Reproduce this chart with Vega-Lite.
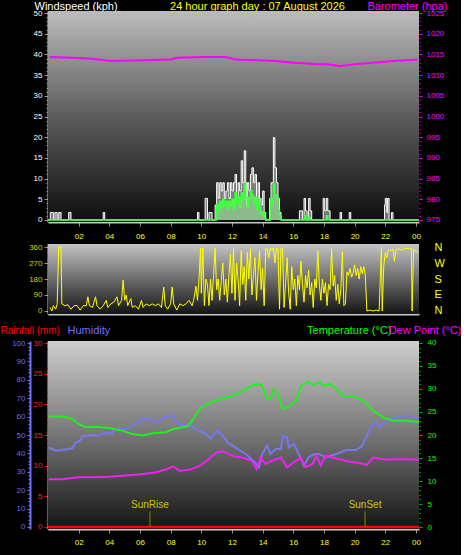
{
 "$schema": "https://vega.github.io/schema/vega-lite/v6.json",
 "background": "#000000",
 "padding": 0,
 "config": {
  "view": {"stroke": null},
  "font": "Liberation Sans",
  "axis": {"labelFont": "Liberation Sans", "titleFont": "Liberation Sans", "labelFontSize": 8, "titleFontSize": 11, "titleFontWeight": "normal", "grid": false, "labelOverlap": false, "labelFlush": false}
 },
 "datasets": {
  "gust": [
   {"h":0,"g":0},{"h":0.15,"g":1.8},{"h":0.35,"g":0},{"h":0.45,"g":1.8},{"h":0.6,"g":0},{"h":0.7,"g":1.8},{"h":0.85,"g":0},
   {"h":1.35,"g":1.8},{"h":1.5,"g":0},{"h":3.6,"g":1.8},{"h":3.7,"g":0},{"h":9.75,"g":1.8},{"h":9.85,"g":0},
   {"h":10.25,"g":5.2},{"h":10.4,"g":0},{"h":10.5,"g":1.8},{"h":10.7,"g":0},{"h":10.9,"g":3.6},{"h":11.0,"g":9.0},{"h":11.1,"g":5.2},
   {"h":11.2,"g":9.0},{"h":11.3,"g":7.0},{"h":11.4,"g":9.0},{"h":11.5,"g":5.2},{"h":11.6,"g":7.0},{"h":11.7,"g":9.0},{"h":11.8,"g":5.2},
   {"h":11.9,"g":9.0},{"h":12.0,"g":7.0},{"h":12.1,"g":9.0},{"h":12.2,"g":11.0},{"h":12.3,"g":5.2},{"h":12.4,"g":9.0},{"h":12.5,"g":7.0},
   {"h":12.6,"g":14.3},{"h":12.7,"g":9.0},{"h":12.8,"g":16.7},{"h":12.9,"g":9.0},{"h":12.95,"g":3.6},{"h":13.0,"g":9.0},{"h":13.1,"g":7.0},
   {"h":13.2,"g":11.0},{"h":13.3,"g":12.6},{"h":13.4,"g":9.0},{"h":13.5,"g":11.0},{"h":13.6,"g":5.2},{"h":13.7,"g":9.0},{"h":13.8,"g":5.2},
   {"h":13.9,"g":3.6},{"h":14.0,"g":7.0},{"h":14.1,"g":1.8},{"h":14.2,"g":0},{"h":14.45,"g":5.2},{"h":14.55,"g":9.0},{"h":14.7,"g":19.9},
   {"h":14.8,"g":12.6},{"h":14.9,"g":9.0},{"h":15.0,"g":5.2},{"h":15.1,"g":1.8},{"h":15.2,"g":0},{"h":16.4,"g":2.2},{"h":16.6,"g":0},
   {"h":16.7,"g":5.2},{"h":16.8,"g":2.2},{"h":16.9,"g":0},{"h":17.0,"g":5.2},{"h":17.1,"g":2.2},{"h":17.2,"g":0},{"h":17.95,"g":5.2},
   {"h":18.05,"g":2.2},{"h":18.15,"g":5.2},{"h":18.25,"g":2.2},{"h":18.4,"g":0},{"h":19.05,"g":1.8},{"h":19.15,"g":0},{"h":19.65,"g":1.8},
   {"h":19.75,"g":0},{"h":21.95,"g":3.6},{"h":22.0,"g":5.2},{"h":22.1,"g":1.8},{"h":22.15,"g":5.2},{"h":22.25,"g":0},{"h":22.4,"g":1.8},
   {"h":22.5,"g":0},{"h":24.2,"g":0}
  ],
  "avg": [
   {"h":0,"a":0},{"h":10.95,"a":0},{"h":11.0,"a":3.8},{"h":11.1,"a":2.0},{"h":11.2,"a":4.5},{"h":11.3,"a":3.0},{"h":11.4,"a":5.0},
   {"h":11.5,"a":3.5},{"h":11.6,"a":4.5},{"h":11.7,"a":2.5},{"h":11.8,"a":4.5},{"h":11.9,"a":3.5},{"h":12.0,"a":5.0},{"h":12.1,"a":2.5},
   {"h":12.2,"a":6.5},{"h":12.3,"a":4.0},{"h":12.4,"a":5.5},{"h":12.5,"a":3.0},{"h":12.6,"a":6.5},{"h":12.7,"a":5.0},{"h":12.8,"a":8.7},
   {"h":12.9,"a":5.5},{"h":13.0,"a":3.0},{"h":13.1,"a":5.5},{"h":13.2,"a":7.0},{"h":13.3,"a":6.0},{"h":13.4,"a":4.0},{"h":13.5,"a":5.5},
   {"h":13.6,"a":2.5},{"h":13.7,"a":5.0},{"h":13.8,"a":3.0},{"h":13.9,"a":1.2},{"h":14.0,"a":2.0},{"h":14.1,"a":0.5},{"h":14.2,"a":0},
   {"h":14.5,"a":5.2},{"h":14.6,"a":4.0},{"h":14.7,"a":8.7},{"h":14.8,"a":6.0},{"h":14.9,"a":5.5},{"h":15.0,"a":2.5},{"h":15.1,"a":0.8},
   {"h":15.2,"a":0},{"h":16.75,"a":1.0},{"h":16.85,"a":0},{"h":17.0,"a":0.6},{"h":17.1,"a":0},{"h":18.15,"a":1.0},{"h":18.25,"a":0},{"h":24.2,"a":0}
  ],
  "baro": [
   {"h":0.1,"p":1014.4},{"h":1.5,"p":1014.2},{"h":2.66,"p":1014.0},{"h":4.15,"p":1013.4},{"h":6.3,"p":1013.6},{"h":8.0,"p":1013.8},
   {"h":8.4,"p":1014.2},{"h":10.1,"p":1014.4},{"h":11.6,"p":1014.4},{"h":12.25,"p":1013.8},{"h":13.75,"p":1013.6},{"h":14.8,"p":1013.4},
   {"h":16.1,"p":1013.0},{"h":17.6,"p":1012.6},{"h":18.2,"p":1012.6},{"h":19.1,"p":1012.2},{"h":19.9,"p":1012.6},{"h":21.2,"p":1013.0},
   {"h":22.5,"p":1013.4},{"h":24.1,"p":1013.8}
  ],
  "dir": [
   {"h":0.13,"d":20},{"h":0.25,"d":0},{"h":0.35,"d":30},{"h":0.5,"d":10},{"h":0.6,"d":40},{"h":0.7,"d":360},{"h":0.85,"d":360},{"h":0.9,"d":40},
   {"h":1.1,"d":30},{"h":1.3,"d":35},{"h":1.5,"d":10},{"h":1.7,"d":30},{"h":1.9,"d":30},{"h":2.1,"d":5},{"h":2.3,"d":30},{"h":2.5,"d":30},
   {"h":2.6,"d":80},{"h":2.7,"d":30},{"h":2.9,"d":20},{"h":3.1,"d":80},{"h":3.2,"d":30},{"h":3.4,"d":10},{"h":3.6,"d":30},{"h":3.8,"d":60},
   {"h":3.9,"d":20},{"h":4.1,"d":40},{"h":4.3,"d":50},{"h":4.5,"d":80},{"h":4.6,"d":30},{"h":4.8,"d":60},{"h":4.9,"d":175},{"h":5.0,"d":60},
   {"h":5.1,"d":90},{"h":5.2,"d":30},{"h":5.4,"d":70},{"h":5.5,"d":20},{"h":5.7,"d":30},{"h":5.9,"d":10},{"h":6.1,"d":60},{"h":6.2,"d":20},
   {"h":6.4,"d":40},{"h":6.6,"d":30},{"h":6.8,"d":40},{"h":7.0,"d":30},{"h":7.2,"d":40},{"h":7.4,"d":20},{"h":7.55,"d":135},{"h":7.65,"d":30},
   {"h":7.8,"d":10},{"h":8.0,"d":40},{"h":8.1,"d":135},{"h":8.2,"d":40},{"h":8.4,"d":5},{"h":8.6,"d":40},{"h":8.8,"d":30},{"h":9.0,"d":40},
   {"h":9.2,"d":60},{"h":9.4,"d":30},{"h":9.5,"d":60},{"h":9.65,"d":140},{"h":9.75,"d":60},{"h":9.85,"d":180},{"h":9.95,"d":355},{"h":10.0,"d":100},
   {"h":10.1,"d":355},{"h":10.2,"d":30},{"h":10.3,"d":180},{"h":10.4,"d":150},{"h":10.5,"d":30},{"h":10.6,"d":180},{"h":10.7,"d":60},{"h":10.8,"d":200},
   {"h":10.9,"d":355},{"h":11.0,"d":120},{"h":11.1,"d":180},{"h":11.2,"d":60},{"h":11.3,"d":170},{"h":11.4,"d":270},{"h":11.5,"d":90},{"h":11.6,"d":180},
   {"h":11.7,"d":50},{"h":11.8,"d":200},{"h":11.9,"d":320},{"h":12.0,"d":100},{"h":12.1,"d":350},{"h":12.2,"d":60},{"h":12.3,"d":270},{"h":12.4,"d":180},
   {"h":12.5,"d":30},{"h":12.6,"d":340},{"h":12.7,"d":150},{"h":12.8,"d":250},{"h":12.9,"d":60},{"h":13.0,"d":330},{"h":13.1,"d":180},{"h":13.2,"d":350},
   {"h":13.3,"d":90},{"h":13.4,"d":200},{"h":13.5,"d":300},{"h":13.6,"d":60},{"h":13.7,"d":220},{"h":13.8,"d":340},{"h":13.9,"d":120},{"h":14.0,"d":240},
   {"h":14.1,"d":30},{"h":14.2,"d":350},{"h":14.3,"d":350},{"h":14.4,"d":300},{"h":14.5,"d":355},{"h":14.6,"d":340},{"h":14.7,"d":355},{"h":14.8,"d":270},
   {"h":14.9,"d":355},{"h":15.0,"d":350},{"h":15.1,"d":10},{"h":15.2,"d":355},{"h":15.3,"d":350},{"h":15.4,"d":20},{"h":15.5,"d":160},{"h":15.6,"d":300},
   {"h":15.7,"d":100},{"h":15.8,"d":10},{"h":15.9,"d":250},{"h":16.0,"d":120},{"h":16.1,"d":180},{"h":16.2,"d":30},{"h":16.3,"d":200},{"h":16.4,"d":120},
   {"h":16.5,"d":280},{"h":16.6,"d":150},{"h":16.7,"d":50},{"h":16.8,"d":200},{"h":16.9,"d":130},{"h":17.0,"d":230},{"h":17.1,"d":90},{"h":17.2,"d":160},
   {"h":17.3,"d":20},{"h":17.4,"d":180},{"h":17.5,"d":130},{"h":17.6,"d":340},{"h":17.7,"d":150},{"h":17.8,"d":60},{"h":17.9,"d":180},{"h":18.0,"d":100},
   {"h":18.1,"d":160},{"h":18.2,"d":30},{"h":18.3,"d":150},{"h":18.4,"d":120},{"h":18.5,"d":350},{"h":18.6,"d":140},{"h":18.7,"d":200},{"h":18.8,"d":60},
   {"h":18.9,"d":150},{"h":19.0,"d":40},{"h":19.1,"d":120},{"h":19.2,"d":330},{"h":19.3,"d":30},{"h":19.4,"d":40},{"h":19.5,"d":220},{"h":19.6,"d":200},
   {"h":19.7,"d":240},{"h":19.8,"d":190},{"h":19.9,"d":210},{"h":20.0,"d":260},{"h":20.1,"d":200},{"h":20.2,"d":240},{"h":20.3,"d":180},{"h":20.4,"d":250},
   {"h":20.5,"d":210},{"h":20.6,"d":250},{"h":20.7,"d":200},{"h":20.8,"d":0},{"h":21.0,"d":5},{"h":21.2,"d":0},{"h":21.4,"d":5},{"h":21.6,"d":0},
   {"h":21.75,"d":360},{"h":21.8,"d":0},{"h":21.9,"d":250},{"h":22.0,"d":330},{"h":22.1,"d":300},{"h":22.2,"d":345},{"h":22.4,"d":340},{"h":22.5,"d":350},
   {"h":22.6,"d":280},{"h":22.7,"d":345},{"h":22.9,"d":350},{"h":23.1,"d":340},{"h":23.3,"d":355},{"h":23.5,"d":350},{"h":23.7,"d":355},{"h":23.75,"d":0},
   {"h":23.85,"d":350},{"h":24.0,"d":330},{"h":24.15,"d":340}
  ],
  "temp": [
   {"h":0.04,"t":24.0},{"h":0.92,"t":24.0},{"h":1.58,"t":23.5},{"h":2.0,"t":22.4},{"h":2.46,"t":21.7},{"h":3.1,"t":21.8},{"h":4.0,"t":21.5},
   {"h":4.87,"t":20.9},{"h":5.5,"t":20.2},{"h":6.2,"t":19.9},{"h":6.84,"t":20.4},{"h":7.7,"t":20.6},{"h":8.16,"t":21.3},{"h":8.8,"t":21.7},
   {"h":9.1,"t":21.9},{"h":9.5,"t":23.5},{"h":9.9,"t":25.7},{"h":10.35,"t":26.7},{"h":11.0,"t":27.5},{"h":11.67,"t":28.2},{"h":12.2,"t":28.7},
   {"h":12.9,"t":30.0},{"h":13.4,"t":30.8},{"h":13.75,"t":31.1},{"h":13.97,"t":30.7},{"h":14.3,"t":27.8},{"h":14.5,"t":27.8},{"h":14.74,"t":30.0},
   {"h":14.95,"t":29.3},{"h":15.3,"t":25.7},{"h":15.6,"t":26.0},{"h":16.2,"t":27.5},{"h":16.5,"t":30.7},{"h":16.9,"t":31.6},{"h":17.3,"t":30.9},
   {"h":17.7,"t":31.5},{"h":18.0,"t":30.7},{"h":18.4,"t":31.1},{"h":18.8,"t":30.0},{"h":19.2,"t":28.5},{"h":19.9,"t":28.4},{"h":20.3,"t":28.0},
   {"h":20.8,"t":26.7},{"h":21.2,"t":25.3},{"h":21.9,"t":23.8},{"h":22.5,"t":23.1},{"h":23.4,"t":23.1},{"h":24.2,"t":22.8}
  ],
  "hum": [
   {"h":0.05,"u":43.3},{"h":0.5,"u":41.5},{"h":0.9,"u":41.8},{"h":1.58,"u":42.8},{"h":1.8,"u":45.7},{"h":2.1,"u":46.9},{"h":2.24,"u":49.3},
   {"h":2.8,"u":50.0},{"h":3.3,"u":49.6},{"h":3.55,"u":50.9},{"h":4.2,"u":50.9},{"h":4.3,"u":53.3},{"h":5.1,"u":53.3},{"h":5.5,"u":54.7},
   {"h":6.1,"u":58.7},{"h":6.6,"u":58.7},{"h":7.06,"u":56.9},{"h":7.5,"u":59.1},{"h":7.9,"u":60.2},{"h":8.16,"u":60.9},{"h":8.27,"u":57.8},
   {"h":8.6,"u":55.4},{"h":9.26,"u":55.4},{"h":9.7,"u":52.9},{"h":10.35,"u":50.5},{"h":10.6,"u":47.8},{"h":11.0,"u":52.4},{"h":11.3,"u":50.5},
   {"h":11.7,"u":46.0},{"h":12.2,"u":43.3},{"h":12.9,"u":39.7},{"h":13.5,"u":35.1},{"h":13.75,"u":32.4},{"h":13.97,"u":39.7},{"h":14.3,"u":44.2},
   {"h":14.5,"u":39.7},{"h":14.85,"u":42.4},{"h":15.2,"u":42.4},{"h":15.3,"u":49.3},{"h":15.6,"u":48.7},{"h":15.7,"u":43.3},{"h":16.05,"u":45.1},
   {"h":16.4,"u":38.8},{"h":16.7,"u":33.3},{"h":17.0,"u":37.9},{"h":17.4,"u":39.7},{"h":17.7,"u":39.7},{"h":18.1,"u":37.9},{"h":18.8,"u":39.7},
   {"h":19.45,"u":41.8},{"h":20.1,"u":41.8},{"h":20.5,"u":44.2},{"h":21.0,"u":53.3},{"h":21.3,"u":56.9},{"h":21.6,"u":54.2},{"h":22.2,"u":58.7},
   {"h":22.96,"u":59.6},{"h":23.6,"u":60.2},{"h":24.2,"u":58.7}
  ],
  "dew": [
   {"h":0.05,"w":10.4},{"h":0.9,"w":10.4},{"h":2.0,"w":10.8},{"h":3.1,"w":10.8},{"h":4.0,"w":10.9},{"h":5.1,"w":11.2},{"h":6.2,"w":11.5},
   {"h":7.06,"w":11.9},{"h":7.7,"w":12.5},{"h":8.16,"w":13.2},{"h":8.6,"w":12.2},{"h":9.26,"w":12.5},{"h":9.9,"w":13.3},{"h":10.35,"w":14.4},
   {"h":11.0,"w":16.2},{"h":11.45,"w":16.4},{"h":12.1,"w":15.4},{"h":12.65,"w":15.1},{"h":13.3,"w":14.4},{"h":13.6,"w":12.6},{"h":13.86,"w":15.1},
   {"h":14.2,"w":13.7},{"h":14.6,"w":14.4},{"h":15.2,"w":15.1},{"h":15.6,"w":13.0},{"h":16.05,"w":14.1},{"h":16.5,"w":15.1},{"h":16.8,"w":13.0},
   {"h":17.25,"w":13.7},{"h":17.5,"w":15.5},{"h":17.8,"w":13.3},{"h":18.1,"w":15.5},{"h":18.8,"w":14.9},{"h":19.7,"w":14.2},{"h":20.3,"w":13.9},
   {"h":20.8,"w":13.5},{"h":21.2,"w":15.1},{"h":22.1,"w":14.6},{"h":22.96,"w":14.8},{"h":24.2,"w":14.6}
  ],
  "rain": [{"h":0,"r":0},{"h":24.2,"r":0}],
  "sun": [{"h":6.65,"label":"SunRise"},{"h":20.68,"label":"SunSet"}]
 },
 "spacing": 22,
 "bounds": "flush",
 "vconcat": [
  {
   "width": 371, "height": 211,
   "layer": [
    {
     "data": {"values": [{}]},
     "mark": {"type": "rect", "color": {"gradient": "linear", "x1": 0, "y1": 0, "x2": 0, "y2": 1, "stops": [{"offset": 0, "color": "#bcbcbc"}, {"offset": 0.5, "color": "#5c5c5c"}, {"offset": 1, "color": "#0e0e0e"}]}},
     "encoding": {
      "x": {"datum": 0, "type": "quantitative", "scale": {"domain": [0, 24.2], "nice": false, "zero": false},
       "axis": {"values": [2,4,6,8,10,12,14,16,18,20,22,24], "labelOverlap": false, "labelExpr": "datum.value == 24 ? '00' : (datum.value < 10 ? '0' + datum.value : '' + datum.value)",
        "labelColor": "#ffff00", "labelFontSize": 8, "tickColor": "#909090", "tickSize": 4, "domainColor": "#c8c8c8", "domainWidth": 2, "labelPadding": 6,
        "grid": true, "gridColor": "#d8d8d8", "gridDash": [1, 2], "gridOpacity": 0.45,
        "title": "24 hour graph day : 07 August 2026", "titleColor": "#ffff00", "titleFontSize": 11, "titleAngle": 0, "titleAlign": "center", "titleBaseline": "alphabetic", "titleX": 209, "titleY": -213}},
      "x2": {"datum": 24.2},
      "y": {"datum": -0.5, "type": "quantitative", "scale": {"domain": [-0.5, 50.5], "nice": false, "zero": false},
       "axis": {"values": [0,5,10,15,20,25,30,35,40,45,50], "labelOverlap": false, "labelColor": "#ffffff", "labelFontSize": 8, "tickColor": "#909090", "tickSize": 4,
        "domainColor": "#c8c8c8", "domainWidth": 2, "labelPadding": 2, "grid": true, "gridColor": "#d8d8d8", "gridDash": [1, 2], "gridOpacity": 0.45,
        "title": "Windspeed (kph)", "titleColor": "#ffffff", "titleFontSize": 11, "titleAngle": 0, "titleAlign": "left", "titleBaseline": "alphabetic", "titleX": -14, "titleY": -2}},
      "y2": {"datum": 50.5}
     }
    },
    {
     "data": {"name": "gust"},
     "mark": {"type": "area", "interpolate": "step-after", "color": "#c8c8c8", "opacity": 0.55},
     "encoding": {"x": {"field": "h", "type": "quantitative", "scale": {"domain": [0, 24.2], "nice": false, "zero": false}, "axis": null}, "y": {"field": "g", "type": "quantitative", "scale": {"domain": [-0.5, 50.5], "nice": false, "zero": false}, "axis": null}}
    },
    {
     "data": {"name": "gust"},
     "mark": {"type": "line", "interpolate": "step-after", "color": "#ffffff", "strokeWidth": 1},
     "encoding": {"x": {"field": "h", "type": "quantitative", "scale": {"domain": [0, 24.2], "nice": false, "zero": false}, "axis": null}, "y": {"field": "g", "type": "quantitative", "scale": {"domain": [-0.5, 50.5], "nice": false, "zero": false}, "axis": null}}
    },
    {
     "data": {"name": "avg"},
     "mark": {"type": "area", "interpolate": "step-after", "color": "#a0f0a0", "opacity": 0.55},
     "encoding": {"x": {"field": "h", "type": "quantitative", "scale": {"domain": [0, 24.2], "nice": false, "zero": false}, "axis": null}, "y": {"field": "a", "type": "quantitative", "scale": {"domain": [-0.5, 50.5], "nice": false, "zero": false}, "axis": null}}
    },
    {
     "data": {"name": "avg"},
     "mark": {"type": "line", "interpolate": "step-after", "color": "#40ff40", "strokeWidth": 1.5},
     "encoding": {"x": {"field": "h", "type": "quantitative", "scale": {"domain": [0, 24.2], "nice": false, "zero": false}, "axis": null}, "y": {"field": "a", "type": "quantitative", "scale": {"domain": [-0.5, 50.5], "nice": false, "zero": false}, "axis": null}}
    },
    {
     "data": {"name": "baro"},
     "mark": {"type": "line", "color": "#ff00ff", "strokeWidth": 2},
     "encoding": {
      "x": {"field": "h", "type": "quantitative", "scale": {"domain": [0, 24.2], "nice": false, "zero": false}, "axis": null},
      "y": {"field": "p", "type": "quantitative", "scale": {"domain": [974.5, 1025.5], "nice": false, "zero": false},
       "axis": {"orient": "right", "values": [975,980,985,990,995,1000,1005,1010,1015,1020,1025], "labelOverlap": false, "format": "d", "labelColor": "#ff00ff", "labelFontSize": 8,
        "tickColor": "#ff00ff", "tickSize": 3, "domain": false, "labelPadding": 4, "grid": false,
        "title": "Barometer (hpa)", "titleColor": "#ff00ff", "titleFontSize": 11, "titleAngle": 0, "titleAlign": "right", "titleBaseline": "alphabetic", "titleX": 28, "titleY": -2}}
     }
    },
    {
     "data": {"name": "rain"},
     "mark": {"type": "line", "opacity": 0},
     "encoding": {
      "x": {"field": "h", "type": "quantitative", "scale": {"domain": [0, 24.2], "nice": false, "zero": false}, "axis": null},
      "y": {"field": "r", "type": "quantitative", "scale": {"domain": [-0.5, 50.5], "nice": false, "zero": false},
       "axis": {"orient": "left", "values": [1,2,3,4,6,7,8,9,11,12,13,14,16,17,18,19,21,22,23,24,26,27,28,29,31,32,33,34,36,37,38,39,41,42,43,44,46,47,48,49],
        "labels": false, "domain": false, "tickColor": "#909090", "tickSize": 2, "grid": false, "title": null}}
     }
    },
    {
     "data": {"name": "rain"},
     "mark": {"type": "line", "opacity": 0},
     "encoding": {
      "x": {"field": "h", "type": "quantitative", "scale": {"domain": [0, 24.2], "nice": false, "zero": false}, "axis": null},
      "y": {"field": "r", "type": "quantitative", "scale": {"domain": [974.5, 1025.5], "nice": false, "zero": false},
       "axis": {"orient": "right", "values": [976,977,978,979,981,982,983,984,986,987,988,989,991,992,993,994,996,997,998,999,1001,1002,1003,1004,1006,1007,1008,1009,1011,1012,1013,1014,1016,1017,1018,1019,1021,1022,1023,1024],
        "labels": false, "domain": false, "tickColor": "#c000c0", "tickSize": 1.5, "grid": false, "title": null}}
     }
    }
   ],
   "resolve": {"scale": {"x": "independent", "y": "independent"}}
  },
  {
   "spacing": 27,
   "bounds": "flush",
   "vconcat": [
    {
     "width": 371, "height": 70,
     "layer": [
      {
       "data": {"values": [{}]},
       "mark": {"type": "rect", "color": {"gradient": "linear", "x1": 0, "y1": 0, "x2": 0, "y2": 1, "stops": [{"offset": 0, "color": "#c4c4c4"}, {"offset": 1, "color": "#141414"}]}},
       "encoding": {
        "x": {"datum": 0, "type": "quantitative", "scale": {"domain": [0, 24.2], "nice": false, "zero": false},
         "axis": {"values": [2,4,6,8,10,12,14,16,18,20,22,24], "labels": false, "ticks": false, "domainColor": "#c8c8c8", "domainWidth": 2,
          "grid": true, "gridColor": "#d8d8d8", "gridDash": [1, 2], "gridOpacity": 0.45, "title": null}},
        "x2": {"datum": 24.2},
        "y": {"datum": -17, "type": "quantitative", "scale": {"domain": [-17, 377], "nice": false, "zero": false},
         "axis": {"values": [0, 90, 180, 270, 360], "labelOverlap": false, "labelColor": "#d0d000", "labelFontSize": 8, "tickColor": "#a0a000", "tickSize": 4,
          "domainColor": "#c8c8c8", "domainWidth": 2, "labelPadding": 2, "grid": true, "gridColor": "#d8d8d8", "gridDash": [1, 2], "gridOpacity": 0.45, "title": null}},
        "y2": {"datum": 377}
       }
      },
      {
       "data": {"name": "dir"},
       "mark": {"type": "line", "color": "#ffff00", "strokeWidth": 1},
       "encoding": {"x": {"field": "h", "type": "quantitative", "scale": {"domain": [0, 24.2], "nice": false, "zero": false}, "axis": null}, "y": {"field": "d", "type": "quantitative", "scale": {"domain": [-17, 377], "nice": false, "zero": false}, "axis": null}}
      },
      {
       "data": {"name": "dir"},
       "mark": {"type": "line", "opacity": 0},
       "encoding": {
        "x": {"field": "h", "type": "quantitative", "scale": {"domain": [0, 24.2], "nice": false, "zero": false}, "axis": null},
        "y": {"field": "d", "type": "quantitative", "scale": {"domain": [-17, 377], "nice": false, "zero": false},
         "axis": {"orient": "right", "values": [0, 90, 180, 270, 360], "labelOverlap": false, "labelExpr": "['N','E','S','W','N'][round(datum.value / 90)]",
          "labelColor": "#ffff00", "labelFontSize": 11, "ticks": false, "domain": false, "labelPadding": 15, "grid": false, "title": null}}
       }
      }
     ],
     "resolve": {"scale": {"x": "independent", "y": "independent"}}
    },
    {
     "width": 371, "height": 188,
     "layer": [
      {
       "data": {"values": [{}]},
       "mark": {"type": "rect", "color": {"gradient": "linear", "x1": 0, "y1": 0, "x2": 0, "y2": 1, "stops": [{"offset": 0, "color": "#cecece"}, {"offset": 0.5, "color": "#767676"}, {"offset": 1, "color": "#141414"}]}},
       "encoding": {
        "x": {"datum": 0, "type": "quantitative", "scale": {"domain": [0, 24.2], "nice": false, "zero": false},
         "axis": {"values": [2,4,6,8,10,12,14,16,18,20,22,24], "labelOverlap": false, "labelExpr": "datum.value == 24 ? '00' : (datum.value < 10 ? '0' + datum.value : '' + datum.value)",
          "labelColor": "#ffff00", "labelFontSize": 8, "tickColor": "#909090", "tickSize": 4, "domainColor": "#c8c8c8", "domainWidth": 2, "labelPadding": 5,
          "grid": true, "gridColor": "#d8d8d8", "gridDash": [1, 2], "gridOpacity": 0.45, "title": null}},
        "x2": {"datum": 24.2},
        "y": {"datum": -0.33, "type": "quantitative", "scale": {"domain": [-0.33, 30.33], "nice": false, "zero": false},
         "axis": {"orient": "left", "values": [0,5,10,15,20,25,30], "labelOverlap": false, "labelColor": "#ff2020", "labelFontSize": 8, "tickColor": "#ff0000", "tickSize": 4,
          "domainColor": "#c8c8c8", "domainWidth": 2, "labelPadding": 2, "grid": false,
          "title": "Rainfall (mm)", "titleColor": "#ff0000", "titleFontSize": 10, "titleAngle": 0, "titleAlign": "left", "titleBaseline": "alphabetic", "titleX": -48, "titleY": -8}},
        "y2": {"datum": 30.33}
       }
      },
      {
       "data": {"name": "rain"},
       "mark": {"type": "line", "color": "#ff0000", "strokeWidth": 2.5},
       "encoding": {"x": {"field": "h", "type": "quantitative", "scale": {"domain": [0, 24.2], "nice": false, "zero": false}, "axis": null}, "y": {"field": "r", "type": "quantitative", "scale": {"domain": [-0.33, 30.33], "nice": false, "zero": false}, "axis": null}}
      },
      {
       "data": {"name": "hum"},
       "mark": {"type": "line", "color": "#7878ee", "strokeWidth": 2},
       "encoding": {
        "x": {"field": "h", "type": "quantitative", "scale": {"domain": [0, 24.2], "nice": false, "zero": false}, "axis": null},
        "y": {"field": "u", "type": "quantitative", "scale": {"domain": [-1.09, 101.09], "nice": false, "zero": false},
         "axis": {"orient": "left", "offset": 18, "values": [0,10,20,30,40,50,60,70,80,90,100], "labelOverlap": false, "labelColor": "#6a6aff", "labelFontSize": 8,
          "tickColor": "#7070ff", "tickSize": 3, "domainColor": "#7070ff", "domainWidth": 2, "labelPadding": 2,
          "grid": true, "gridColor": "#d8d8d8", "gridDash": [1, 2], "gridOpacity": 0.45,
          "title": "Humidity", "titleColor": "#7070ff", "titleFontSize": 11, "titleAngle": 0, "titleAlign": "left", "titleBaseline": "alphabetic", "titleX": 37, "titleY": -8}}
       }
      },
      {
       "data": {"name": "sun"},
       "mark": {"type": "rule", "color": "#8a8a00", "strokeWidth": 1},
       "encoding": {"x": {"field": "h", "type": "quantitative", "scale": {"domain": [0, 24.2], "nice": false, "zero": false}, "axis": null}, "y": {"datum": 0, "type": "quantitative", "scale": {"domain": [-1.09, 101.09], "nice": false, "zero": false}, "axis": null}, "y2": {"datum": 8.5}}
      },
      {
       "data": {"name": "sun"},
       "mark": {"type": "text", "color": "#c8c800", "fontSize": 10, "baseline": "bottom", "font": "Liberation Sans"},
       "encoding": {"x": {"field": "h", "type": "quantitative", "scale": {"domain": [0, 24.2], "nice": false, "zero": false}, "axis": null}, "y": {"datum": 9, "type": "quantitative", "scale": {"domain": [-1.09, 101.09], "nice": false, "zero": false}, "axis": null}, "text": {"field": "label"}}
      },
      {
       "data": {"name": "temp"},
       "mark": {"type": "line", "color": "#22ee22", "strokeWidth": 2},
       "encoding": {
        "x": {"field": "h", "type": "quantitative", "scale": {"domain": [0, 24.2], "nice": false, "zero": false}, "axis": null},
        "y": {"field": "t", "type": "quantitative", "scale": {"domain": [-0.43, 40.43], "nice": false, "zero": false},
         "axis": {"orient": "right", "values": [0,5,10,15,20,25,30,35,40], "labelOverlap": false, "labelColor": "#00ff00", "labelFontSize": 8, "tickColor": "#00c000", "tickSize": 3,
          "domain": false, "labelPadding": 5, "grid": false,
          "title": "Temperature (°C)", "titleColor": "#00ff00", "titleFontSize": 11, "titleAngle": 0, "titleAlign": "right", "titleBaseline": "alphabetic", "titleX": -28, "titleY": -8}}
       }
      },
      {
       "data": {"name": "dew"},
       "mark": {"type": "line", "color": "#ee22ee", "strokeWidth": 2},
       "encoding": {
        "x": {"field": "h", "type": "quantitative", "scale": {"domain": [0, 24.2], "nice": false, "zero": false}, "axis": null},
        "y": {"field": "w", "type": "quantitative", "scale": {"domain": [-0.43, 40.43], "nice": false, "zero": false},
         "axis": {"orient": "right", "labels": false, "ticks": false, "domain": false, "grid": false,
          "title": "Dew Point (°C)", "titleColor": "#ff00ff", "titleFontSize": 11, "titleAngle": 0, "titleAlign": "right", "titleBaseline": "alphabetic", "titleX": 42, "titleY": -8}}
       }
      },
      {
       "data": {"name": "rain"},
       "mark": {"type": "line", "opacity": 0},
       "encoding": {
        "x": {"field": "h", "type": "quantitative", "scale": {"domain": [0, 24.2], "nice": false, "zero": false}, "axis": null},
        "y": {"field": "r", "type": "quantitative", "scale": {"domain": [-0.33, 30.33], "nice": false, "zero": false},
         "axis": {"orient": "left", "values": [1,2,3,4,6,7,8,9,11,12,13,14,16,17,18,19,21,22,23,24,26,27,28,29],
          "labels": false, "domain": false, "tickColor": "#c00000", "tickSize": 2, "grid": false, "title": null}}
       }
      },
      {
       "data": {"name": "rain"},
       "mark": {"type": "line", "opacity": 0},
       "encoding": {
        "x": {"field": "h", "type": "quantitative", "scale": {"domain": [0, 24.2], "nice": false, "zero": false}, "axis": null},
        "y": {"field": "r", "type": "quantitative", "scale": {"domain": [-1.09, 101.09], "nice": false, "zero": false},
         "axis": {"orient": "left", "offset": 18, "values": [2,4,6,8,12,14,16,18,22,24,26,28,32,34,36,38,42,44,46,48,52,54,56,58,62,64,66,68,72,74,76,78,82,84,86,88,92,94,96,98],
          "labels": false, "domain": false, "tickColor": "#7070ff", "tickSize": 2, "grid": false, "title": null}}
       }
      },
      {
       "data": {"name": "rain"},
       "mark": {"type": "line", "opacity": 0},
       "encoding": {
        "x": {"field": "h", "type": "quantitative", "scale": {"domain": [0, 24.2], "nice": false, "zero": false}, "axis": null},
        "y": {"field": "r", "type": "quantitative", "scale": {"domain": [-0.43, 40.43], "nice": false, "zero": false},
         "axis": {"orient": "right", "values": [1,2,3,4,6,7,8,9,11,12,13,14,16,17,18,19,21,22,23,24,26,27,28,29,31,32,33,34,36,37,38,39],
          "labels": false, "domain": false, "tickColor": "#00b000", "tickSize": 1.5, "grid": false, "title": null}}
       }
      }
     ],
     "resolve": {"scale": {"x": "independent", "y": "independent"}}
    }
   ]
  }
 ]
}
